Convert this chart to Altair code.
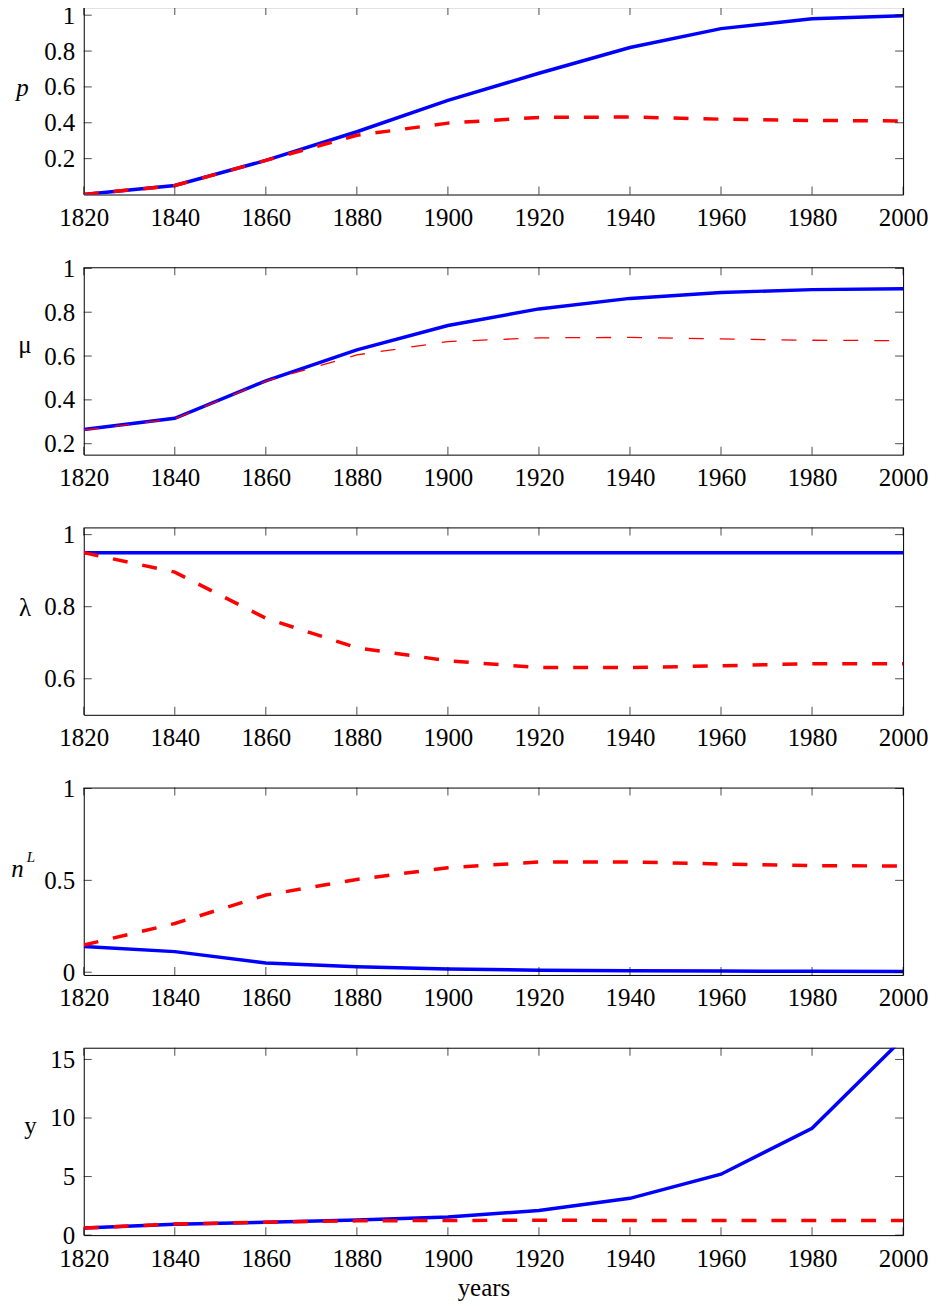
import altair as alt
import pandas as pd

years = [1820, 1840, 1860, 1880, 1900, 1920, 1940, 1960, 1980, 2000]
x_ticks = [1820, 1840, 1860, 1880, 1900, 1920, 1940, 1960, 1980, 2000]

p_blue = [0.0, 0.05, 0.19, 0.35, 0.525, 0.676, 0.82, 0.925, 0.98, 0.997]
p_red = [0.0, 0.05, 0.19, 0.33, 0.398, 0.43, 0.432, 0.42, 0.413, 0.41]
p_ticks = [0.2, 0.4, 0.6, 0.8, 1]

mu_blue = [0.265, 0.316, 0.487, 0.628, 0.739, 0.815, 0.863, 0.89, 0.903, 0.907]
mu_red = [0.262, 0.314, 0.485, 0.605, 0.666, 0.683, 0.685, 0.678, 0.672, 0.670]
mu_ticks = [0.2, 0.4, 0.6, 0.8, 1]

lam_blue = [0.95, 0.95, 0.95, 0.95, 0.95, 0.95, 0.95, 0.95, 0.95, 0.95]
lam_red = [0.95, 0.896, 0.768, 0.686, 0.65, 0.631, 0.631, 0.636, 0.642, 0.642]
lam_ticks = [0.6, 0.8, 1]

nl_blue = [0.14, 0.112, 0.05, 0.03, 0.018, 0.011, 0.008, 0.006, 0.005, 0.004]
nl_red = [0.148, 0.265, 0.42, 0.505, 0.569, 0.60, 0.60, 0.589, 0.58, 0.578]
nl_ticks = [0, 0.5, 1]

y_blue = [0.6, 0.93, 1.1, 1.3, 1.55, 2.1, 3.14, 5.2, 9.12, 16.8]
y_red = [0.6, 0.95, 1.1, 1.22, 1.25, 1.27, 1.25, 1.25, 1.25, 1.25]
y_ticks = [0, 5, 10, 15]

W, H = 822, 188
FONT = "Liberation Serif"
FS = 25

LABEL_STYLE = dict(labelFont=FONT, labelFontSize=FS, labelColor="black",
                   labelFlush=False, labelOverlap=False, labelBound=False,
                   ticks=False, tickSize=0, domain=False, grid=False)


def panel(blue, red, ydom, yticks, title, title_x, title_y, red_width, red_dash,
          italic, bottom, extra=None):
    df = pd.DataFrame({"year": years, "blue": blue, "red": red})
    xs = alt.Scale(domain=[1820, 2000], nice=False, zero=False)
    ys = alt.Scale(domain=ydom, nice=False, zero=False)
    if bottom:
        xaxis = alt.Axis(values=x_ticks, format="d", labelPadding=11,
                         title="years", titleX=401, titleY=61,
                         titleAlign="center", titleBaseline="alphabetic",
                         titleFont=FONT, titleFontSize=FS,
                         titleFontWeight="normal", titleColor="black",
                         **LABEL_STYLE)
    else:
        xaxis = alt.Axis(values=x_ticks, format="d", labelPadding=11, title=None,
                         **LABEL_STYLE)
    yaxis = alt.Axis(values=yticks, format="~g", labelPadding=9,
                     title=title, titleAngle=0, titleX=title_x, titleY=title_y,
                     titleAlign="center", titleBaseline="alphabetic",
                     titleFont=FONT, titleFontSize=FS, titleFontWeight="normal",
                     titleFontStyle="italic" if italic else "normal",
                     titleColor="black", **LABEL_STYLE)
    blue_line = alt.Chart(df).mark_line(
        color="#0000ff", strokeWidth=3.5, clip=True
    ).encode(
        x=alt.X("year:Q", scale=xs, axis=xaxis),
        y=alt.Y("blue:Q", scale=ys, axis=yaxis),
    )
    red_line = alt.Chart(df).mark_line(
        color="#ff0000", strokeWidth=red_width, strokeDash=red_dash, clip=True
    ).encode(
        x=alt.X("year:Q", scale=xs),
        y=alt.Y("red:Q", scale=ys),
    )
    ydf = pd.DataFrame({"v": yticks})
    xdf = pd.DataFrame({"v": x_ticks})
    tick_style = dict(size=8, thickness=1, color="black")
    lt = alt.Chart(ydf).mark_tick(orient="horizontal", **tick_style).encode(
        y=alt.Y("v:Q", scale=ys), x=alt.value(4))
    rt = alt.Chart(ydf).mark_tick(orient="horizontal", **tick_style).encode(
        y=alt.Y("v:Q", scale=ys), x=alt.value(W - 4))
    tt = alt.Chart(xdf).mark_tick(orient="vertical", **tick_style).encode(
        x=alt.X("v:Q", scale=xs), y=alt.value(4))
    bt = alt.Chart(xdf).mark_tick(orient="vertical", **tick_style).encode(
        x=alt.X("v:Q", scale=xs), y=alt.value(H - 4))
    layers = [blue_line, red_line, lt, rt, tt, bt]
    if extra is not None:
        layers.append(extra)
    return alt.layer(*layers).properties(width=W, height=H)


sup_df = pd.DataFrame({"t": ["L"]})
sup_L = alt.Chart(sup_df).mark_text(
    font=FONT, fontSize=15, fontStyle="italic", align="center",
    baseline="alphabetic", color="black"
).encode(text="t:N", x=alt.value(-53), y=alt.value(75))

p1 = panel(p_blue, p_red, [0, 1.045], p_ticks, "p", -62, 88.5, 3.5, [15, 15], True, False)
p2 = panel(mu_blue, mu_red, [0.15, 1.005], mu_ticks, "μ", -59.5, 86, 1.3, [15, 16], False, False)
p3 = panel(lam_blue, lam_red, [0.5, 1.02], lam_ticks, "λ", -59.5, 88, 3.5, [15, 15], False, False)
p4 = panel(nl_blue, nl_red, [-0.015, 1.005], nl_ticks, "n", -67, 89, 3.5, [15, 15], True, False, sup_L)
p5 = panel(y_blue, y_red, [0, 16], y_ticks, "y", -54, 86, 3.5, [15, 15], False, True)

chart = alt.vconcat(p1, p2, p3, p4, p5, spacing=73, bounds="flush").properties(
    padding={"left": 2, "top": -8, "right": 0, "bottom": 0},
    background="white",
).configure_view(
    stroke="black", strokeWidth=1
).configure_axis(
    labelFont=FONT, labelFontSize=FS, labelColor="black",
)

chart.save("out.html", embed_options={"renderer": "svg", "actions": False})
